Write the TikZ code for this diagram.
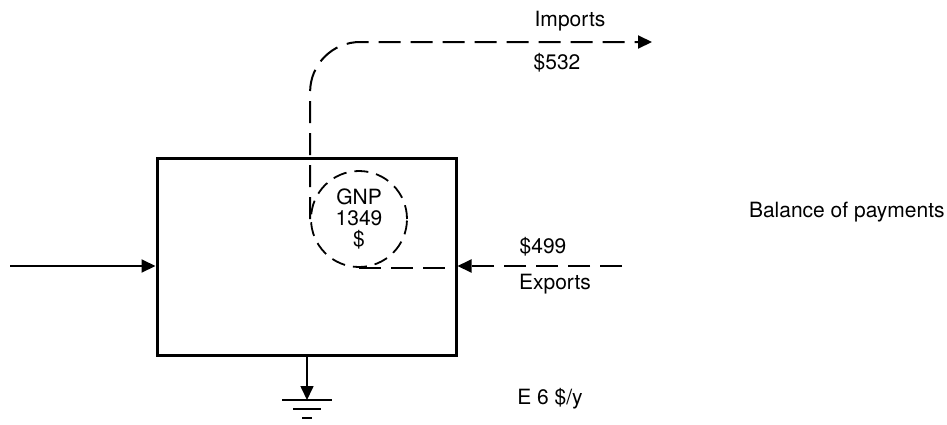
\documentclass[tikz,border=0pt]{standalone}
\usepackage{fontspec}
\setmainfont{TeX Gyre Heros}
\usetikzlibrary{arrows.meta,calc,positioning}

\begin{document}
\begin{tikzpicture}[x=0.5pt,y=-0.5pt,
    font=\fontsize{10.5}{11}\selectfont,
    sysbox/.style={draw, line width=1.5pt, minimum width=149.5pt, minimum height=98.5pt, inner sep=0pt},
    gnpcirc/.style={draw, circle, dash pattern=on 7pt off 4pt, line width=0.9pt, minimum size=48pt, inner sep=0pt, align=center, font=\fontsize{10.5}{10.5}\selectfont},
    moneyflow/.style={line width=1pt, dash pattern=on 11pt off 5pt},
    tip/.style={-{Triangle[length=7pt,width=6.5pt]}},
    label/.style={inner sep=1pt}]
    \useasboundingbox (0,0) rectangle (947,424);
    % Draw nodes
    \node[sysbox] (econ) at (306.5,256.5) {};
    \node[gnpcirc] (gnp) at (359,219) {GNP\\1349\\\$};
    \coordinate (impend) at (652,42);
    \coordinate (expstart) at (622,266);
    \coordinate (inp) at (10,266);
    \coordinate (sink) at (307,400);
    % Draw flows
    \draw[moneyflow, tip, rounded corners=25pt] (gnp.west) |- (impend);
    \draw[moneyflow] (gnp.south) -- (gnp.south -| econ.east);
    \draw[moneyflow, tip] (expstart) -- (expstart -| econ.east);
    \draw[line width=1pt, tip] (inp) -- (inp -| econ.west);
    \draw[line width=0.8pt, tip] (econ.south -| sink) -- (sink);
    % Draw ground
    \draw[line width=1.2pt] ($(sink)+(-25,0)$) -- ($(sink)+(25,0)$);
    \draw[line width=1.2pt] ($(sink)+(-14,9)$) -- ($(sink)+(14,9)$);
    \draw[line width=1.2pt] ($(sink)+(-5,18)$) -- ($(sink)+(5,18)$);
    % Draw labels
    \node[label] (imp) at (570,21) {Imports};
    \node[label] (impval) at (557,63) {\$532};
    \node[label] (expval) at (543,247) {\$499};
    \node[label] (exp) at (555,284) {Exports};
    \node[label, anchor=east] (bop) at (947,212) {Balance of payments};
    \node[label] (loss) at (550,399) {E 6 \$/y};
\end{tikzpicture}
\end{document}
